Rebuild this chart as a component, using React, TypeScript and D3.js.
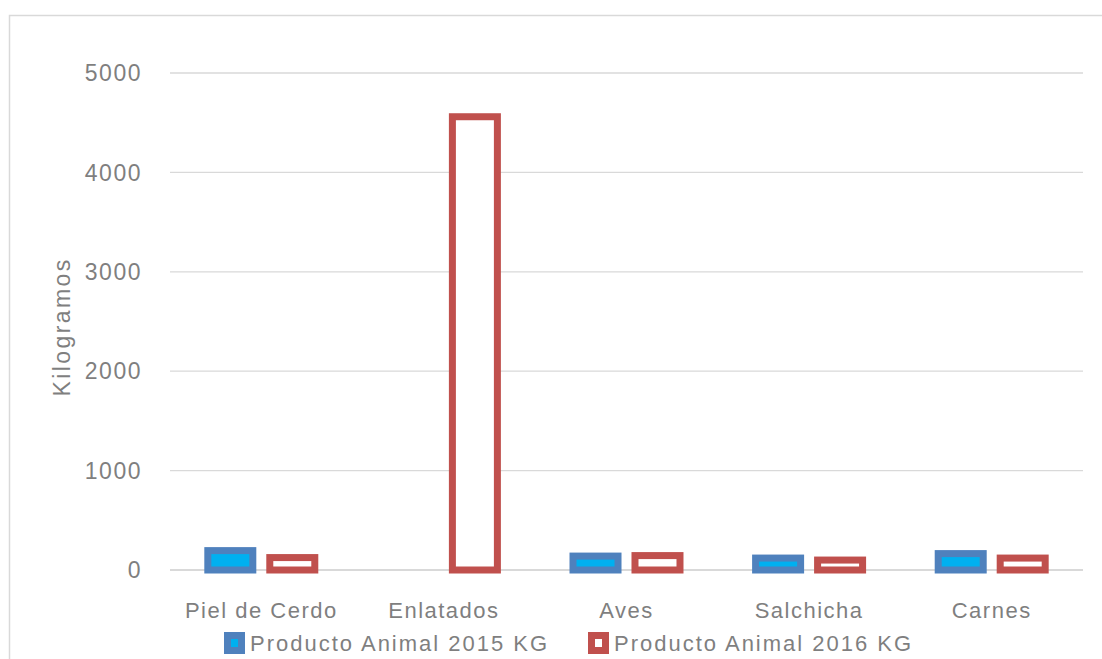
import React, {useEffect, useRef} from 'react';
import * as d3 from 'd3';

const categories = ['Piel de Cerdo', 'Enlatados', 'Aves', 'Salchicha', 'Carnes'];
const seriesNames = ['Producto Animal 2015 KG', 'Producto Animal 2016 KG'];
const values2015 = [195, 0, 140, 120, 165];
const values2016 = [125, 4560, 145, 100, 120];
const yTicks = [0, 1000, 2000, 3000, 4000, 5000];

const strokes = ['#4F81BD', '#C0504D'];
const fills = ['#00B0F0', '#FFFFFF'];

const W = 1102;
const H = 659;
const FONT = '"Liberation Sans", Arial, sans-serif';
const GREY = '#7F7F7F';

export default function App() {
  const ref = useRef<SVGSVGElement>(null);

  useEffect(() => {
    const svg = d3.select(ref.current);
    svg.selectAll('*').remove();

    const margin = {top: 73, right: 19, bottom: 89, left: 170};
    const width = W - margin.left - margin.right;
    const height = H - margin.top - margin.bottom;

    // chart frame
    svg.append('rect')
      .attr('x', 9.5).attr('y', 15.5)
      .attr('width', W + 20).attr('height', H + 20)
      .attr('fill', '#fff')
      .attr('stroke', '#D9D9D9')
      .attr('stroke-width', 1.5);

    const g = svg.append('g').attr('transform', `translate(${margin.left},${margin.top})`);

    const x0 = d3.scaleBand().domain(categories).range([0, width]).padding(0);
    const x1 = d3.scaleBand().domain(seriesNames).range([0, x0.bandwidth()])
      .paddingInner(0.274).paddingOuter(0.61);
    const y = d3.scaleLinear().domain([0, 5000]).range([height, 0]);

    // gridlines
    g.selectAll('.grid').data(yTicks).enter().append('line')
      .attr('x1', 0).attr('x2', width)
      .attr('y1', d => y(d)).attr('y2', d => y(d))
      .attr('stroke', '#D9D9D9').attr('stroke-width', d => d === 0 ? 2 : 1.3);

    // tick labels
    g.selectAll('.tick-label').data(yTicks).enter().append('text')
      .attr('x', -28).attr('y', d => y(d))
      .attr('dy', '0.36em')
      .attr('text-anchor', 'end')
      .attr('font-family', FONT).attr('font-size', 23)
      .attr('letter-spacing', 1.5)
      .attr('fill', GREY)
      .text(d => d);

    // y title
    svg.append('text')
      .attr('transform', `translate(70,${327}) rotate(-90)`)
      .attr('text-anchor', 'middle')
      .attr('font-family', FONT).attr('font-size', 23)
      .attr('letter-spacing', 2.4)
      .attr('fill', GREY)
      .text('Kilogramos');

    // category labels
    g.selectAll('.cat').data(categories).enter().append('text')
      .attr('x', d => x0(d)! + x0.bandwidth() / 2)
      .attr('y', height + 48)
      .attr('text-anchor', 'middle')
      .attr('font-family', FONT).attr('font-size', 22)
      .attr('letter-spacing', 1.5)
      .attr('fill', GREY)
      .text(d => d);

    // bars
    const seriesValues = [values2015, values2016];
    const sw = 7;
    seriesNames.forEach((s, si) => {
      const data = categories.map((c, i) => ({c, v: seriesValues[si][i]})).filter(d => d.v > 0);
      g.selectAll(`.bar-${si}`).data(data).enter().append('rect')
        .attr('x', d => x0(d.c)! + x1(s)!)
        .attr('y', d => y(d.v))
        .attr('width', x1.bandwidth())
        .attr('height', d => height - y(d.v))
        .attr('fill', fills[si])
        .attr('stroke', strokes[si])
        .attr('stroke-width', sw);
    });

    // legend
    const legendX = [224, 588];
    seriesNames.forEach((s, si) => {
      const lg = svg.append('g').attr('transform', `translate(${legendX[si]},632)`);
      lg.append('rect')
        .attr('x', 3.5).attr('y', 3.5)
        .attr('width', 14).attr('height', 15)
        .attr('fill', fills[si])
        .attr('stroke', strokes[si])
        .attr('stroke-width', 7);
      lg.append('text')
        .attr('x', 26).attr('y', 19)
        .attr('font-family', FONT).attr('font-size', 22)
        .attr('letter-spacing', 2)
        .attr('fill', GREY)
        .text(s);
    });
  }, []);

  return <svg ref={ref} width={W} height={H} style={{position: 'absolute', left: 0, top: 0}}></svg>;
}
